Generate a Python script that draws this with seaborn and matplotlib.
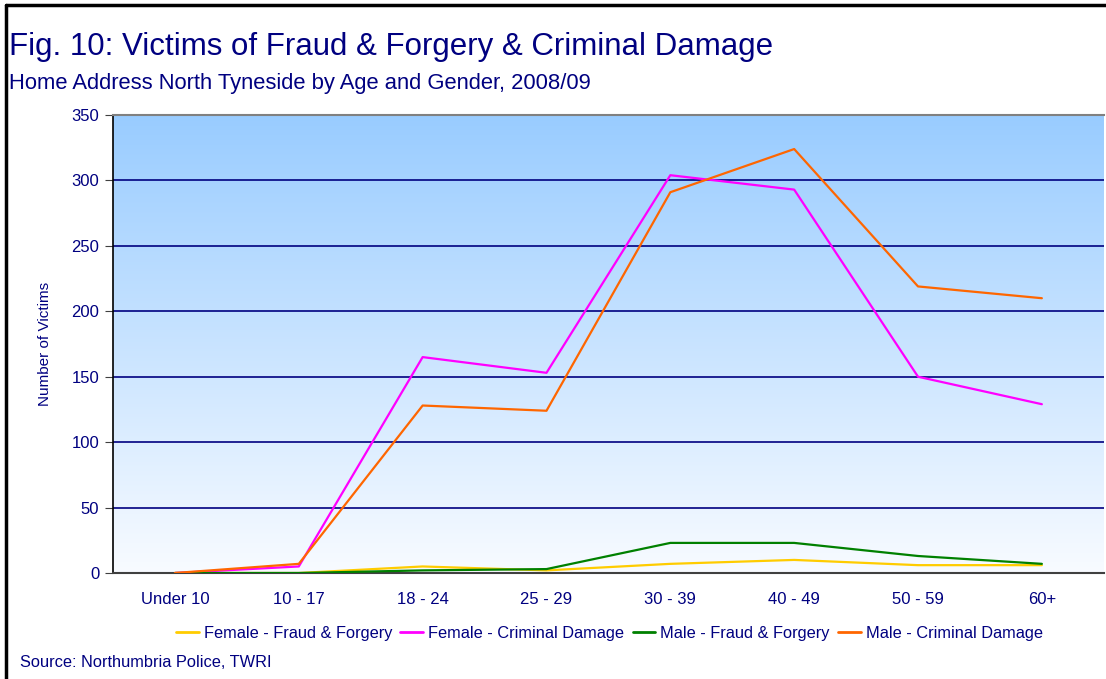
import numpy as np
import pandas as pd
import matplotlib
matplotlib.use("Agg")
import matplotlib.pyplot as plt
from matplotlib.lines import Line2D
from matplotlib.colors import LinearSegmentedColormap
import seaborn as sns

# Datos
grupos_edad = ["Under 10", "10 - 17", "18 - 24", "25 - 29", "30 - 39", "40 - 49", "50 - 59", "60+"]
mujer_fraude = [0, 0, 5, 2, 7, 10, 6, 6]
mujer_danos = [0, 5, 165, 153, 304, 293, 150, 129]
hombre_fraude = [0, 0, 2, 3, 23, 23, 13, 7]
hombre_danos = [0, 7, 128, 124, 291, 324, 219, 210]
series = ["Female - Fraud & Forgery", "Female - Criminal Damage",
          "Male - Fraud & Forgery", "Male - Criminal Damage"]
y_ticks = [0, 50, 100, 150, 200, 250, 300, 350]

df = pd.DataFrame({
    "Edad": grupos_edad * 4,
    "Serie": np.repeat(series, len(grupos_edad)),
    "Victimas": mujer_fraude + mujer_danos + hombre_fraude + hombre_danos,
})

navy = "#000080"
paleta = {series[0]: "#FFCC00", series[1]: "#FF00FF",
          series[2]: "#008000", series[3]: "#FF6600"}

sns.set_style("white")
plt.rcParams["font.family"] = ["Liberation Sans Narrow", "Liberation Sans", "DejaVu Sans"]

fig = plt.figure(figsize=(11.06, 6.79), dpi=100)
ax = fig.add_axes([0.1022, 0.1561, 0.8958, 0.6745])

# Fondo degradado del área de trazado
cmap = LinearSegmentedColormap.from_list("fondo", ["#F8FBFF", "#99CCFF"])
grad = np.linspace(0, 1, 256).reshape(-1, 1)
ax.imshow(grad, aspect="auto", cmap=cmap, origin="lower",
          extent=[-0.5, 7.5, 0, 350], zorder=0)

sns.lineplot(data=df, x="Edad", y="Victimas", hue="Serie", palette=paleta,
             sort=False, linewidth=1.6, legend=False, ax=ax, zorder=3)

ax.set_xlim(-0.5, 7.5)
ax.set_ylim(0, 350)
ax.set_yticks(y_ticks)
ax.set_yticklabels([str(v) for v in y_ticks], color=navy, fontsize=12)
for v in y_ticks[1:-1]:
    ax.axhline(v, color=navy, lw=1.2, zorder=1)

ax.set_xticks(np.arange(-0.5, 8, 1))
ax.set_xticklabels([])
ax.set_xticks(np.arange(8), minor=True)
ax.set_xticklabels(grupos_edad, minor=True, color=navy, fontsize=12)
ax.tick_params(axis="x", which="major", direction="out", length=6, color="#404040")
ax.tick_params(axis="x", which="minor", length=0, pad=14)
ax.tick_params(axis="y", direction="out", length=6, color="#404040", pad=4, left=True)

ax.set_xlabel("")
ax.set_ylabel("Number of Victims", color=navy, fontsize=11, labelpad=14)

ax.spines["left"].set_color("black")
ax.spines["left"].set_linewidth(1.2)
ax.spines["bottom"].set_color("#404040")
ax.spines["bottom"].set_linewidth(1.5)
ax.spines["top"].set_color("#808080")
ax.spines["top"].set_linewidth(1.5)
ax.spines["right"].set_visible(False)

manejadores = [Line2D([0], [0], color=paleta[s], lw=2) for s in series]
fig.legend(manejadores, series, loc="center", bbox_to_anchor=(0.551, 0.067),
           ncol=4, frameon=False, handlelength=1.4, handletextpad=0.3,
           columnspacing=0.5, labelcolor=navy, fontsize=11.8)

fig.text(0.008, 0.931, "Fig. 10: Victims of Fraud & Forgery & Criminal Damage",
         color=navy, fontsize=22.5, va="center")
fig.text(0.008, 0.877, "Home Address North Tyneside by Age and Gender, 2008/09",
         color=navy, fontsize=15.8, va="center")
fig.text(0.018, 0.024, "Source: Northumbria Police, TWRI", color=navy,
         fontsize=11.8, va="center")

# Marco exterior
fig.add_artist(Line2D([0.005, 0.005], [0, 0.993], color="black", lw=2.5,
                      transform=fig.transFigure))
fig.add_artist(Line2D([0.005, 1], [0.993, 0.993], color="black", lw=2.5,
                      transform=fig.transFigure))

fig.savefig("out.png", dpi=100)
